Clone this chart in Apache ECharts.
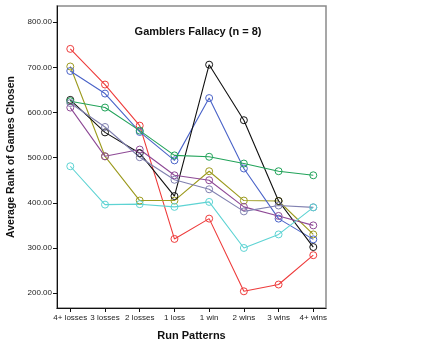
<!DOCTYPE html>
<html>
<head>
<meta charset="utf-8">
<script src="https://cdn.jsdelivr.net/npm/echarts@6/dist/echarts.min.js"></script>
<style>
  html, body { margin: 0; padding: 0; background: #fff; }
  #chart { width: 438px; height: 351px; }
</style>
</head>
<body>
<div id="chart"></div>
<script>
// run pattern categories on the x axis
const categories = ['4+ losses', '3 losses', '2 losses', '1 loss', '1 win', '2 wins', '3 wins', '4+ wins']
// y tick values
const yTicks = [200, 300, 400, 500, 600, 700, 800]

// one line per participant
const redVals = [741, 662, 571, 320, 365, 204, 219, 284]
const oliveVals = [702, 503, 405, 405, 470, 405, 404, 330]
const blueVals = [692, 642, 557, 494, 632, 476, 365, 319]
const blackVals = [628, 556, 510, 415, 706, 583, 404, 302]
const greenVals = [625, 611, 560, 505, 502, 487, 470, 461]
const purpleVals = [611, 503, 518, 461, 450, 391, 371, 350]
const lavenderVals = [621, 568, 501, 451, 430, 381, 394, 390]
const cyanVals = [481, 396, 397, 391, 402, 300, 330, 390]

const seriesList = [
  { vals: redVals, color: '#ee3b3b' },
  { vals: oliveVals, color: '#9c9a1e' },
  { vals: blueVals, color: '#4a63c8' },
  { vals: blackVals, color: '#111111' },
  { vals: greenVals, color: '#22a35a' },
  { vals: purpleVals, color: '#8e4a96' },
  { vals: lavenderVals, color: '#8080b0' },
  { vals: cyanVals, color: '#5dd3d3' }
]

const chart = echarts.init(document.getElementById('chart'))
const font = 'Liberation Sans, Arial, sans-serif'

chart.setOption({
  animation: false,
  title: {
    text: 'Gamblers Fallacy (n = 8)',
    left: 193,
    top: 21,
    textAlign: 'center',
    textStyle: { fontSize: 11, fontWeight: 'bold', color: '#111', fontFamily: font }
  },
  grid: {
    left: 57,
    right: 112,
    top: 6,
    bottom: 43,
    outerBoundsMode: 'none',
    show: true,
    borderColor: '#8a8a8a',
    borderWidth: 1.5
  },
  xAxis: {
    type: 'value',
    min: -0.383,
    max: 7.366,
    name: 'Run Patterns',
    nameLocation: 'middle',
    nameGap: 22,
    nameTextStyle: { fontSize: 11, fontWeight: 'bold', color: '#111', fontFamily: font },
    axisLine: { show: true, onZero: false, lineStyle: { color: '#111', width: 1 } },
    axisTick: { show: true, length: 4, lineStyle: { color: '#111' }, customValues: [0, 1, 2, 3, 4, 5, 6, 7] },
    axisLabel: {
      customValues: [0, 1, 2, 3, 4, 5, 6, 7],
      margin: 6,
      fontSize: 8,
      color: '#222',
      fontFamily: font,
      formatter: v => categories[Math.round(v)]
    },
    splitLine: { show: false }
  },
  yAxis: {
    type: 'value',
    min: 167,
    max: 836,
    name: 'Average Rank of Games Chosen',
    nameLocation: 'middle',
    nameGap: 34,
    nameTextStyle: { fontSize: 10.5, fontWeight: 'bold', color: '#111', fontFamily: font },
    axisLine: { show: true, onZero: false, lineStyle: { color: '#111', width: 1 } },
    axisTick: { show: true, length: 4, lineStyle: { color: '#111' }, customValues: yTicks },
    axisLabel: {
      customValues: yTicks,
      margin: 5,
      fontSize: 8,
      color: '#222',
      fontFamily: font,
      formatter: v => v.toFixed(2)
    },
    splitLine: { show: false }
  },
  series: seriesList.map(s => ({
    type: 'line',
    data: s.vals.map((v, i) => [i, v]),
    symbol: 'circle',
    symbolSize: 7,
    color: s.color,
    lineStyle: { width: 1.1, color: s.color },
    itemStyle: { color: 'rgba(255,255,255,0)', borderColor: s.color, borderWidth: 1 }
  }))
})
</script>
</body>
</html>
